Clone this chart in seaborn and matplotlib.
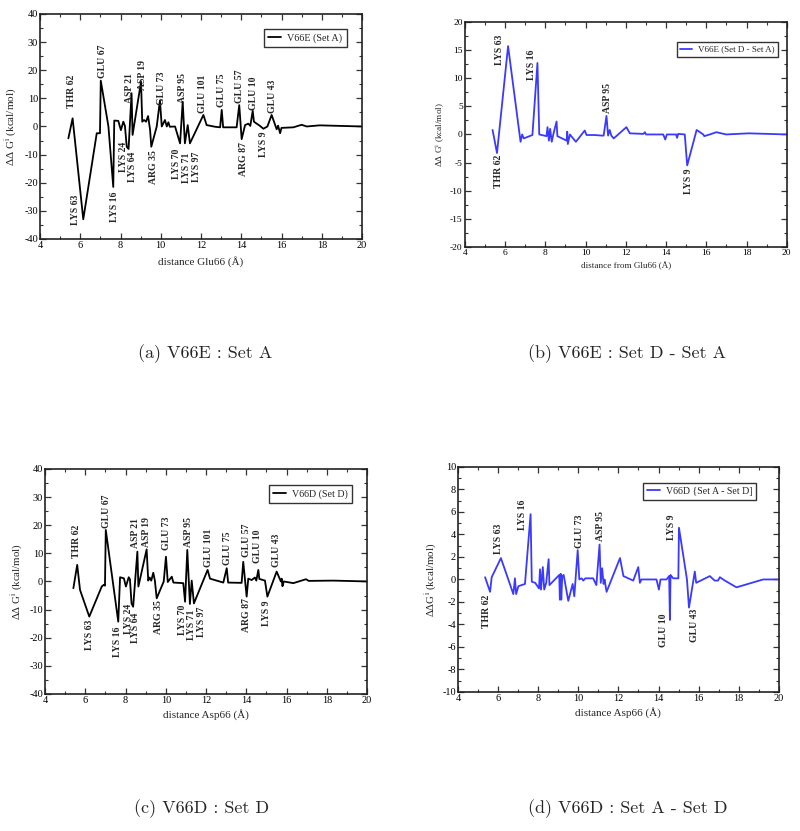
import matplotlib
matplotlib.use("Agg")
import matplotlib.pyplot as plt
from matplotlib.ticker import MultipleLocator
import seaborn as sns

# ---- panel (a): V66E Set A ----
xa = [5.41, 5.62, 6.15, 6.82, 6.98, 7.02, 7.4, 7.64, 7.69, 7.89, 8.02, 8.14, 8.22, 8.31, 8.4,
      8.55, 8.6, 9.02, 9.08, 9.17, 9.27, 9.37, 9.47, 9.53, 9.8, 9.96, 10.05, 10.21, 10.3, 10.38,
      10.45, 10.71, 10.96, 11.09, 11.2, 11.34, 11.45, 12.12, 12.28, 12.7, 12.95, 13.03, 13.1,
      13.77, 13.9, 14.02, 14.19, 14.35, 14.45, 14.57, 14.63, 14.93, 15.1, 15.3, 15.51, 15.76,
      15.83, 15.93, 16.0, 16.59, 17.0, 17.25, 17.9, 20.0]
ya = [-4.2, 2.9, -33.0, -2.4, -2.4, 16.3, 0.0, -21.5, 2.1, 2.0, -1.3, 1.7, 0.2, -7.2, -8.0,
      11.8, -3.0, 15.9, 1.7, 2.3, 1.7, 3.7, -1.2, -7.2, 0.0, 9.2, 0.0, 2.3, 0.0, 1.5,
      -0.1, 0.0, -6.0, 8.8, -6.0, 0.5, -6.0, 4.1, 0.5, -0.1, -0.3, 5.9, -0.3,
      -0.3, 7.6, -4.5, 0.5, 1.0, 0.2, 5.6, 1.7, 0.2, -0.8, 0.0, 4.1, -1.0,
      0.3, -2.4, -0.5, -0.3, 0.6, 0.0, 0.4, 0.0]
lab_a = ["THR 62", "GLU 67", "LYS 63", "LYS 16", "LYS 24", "LYS 64", "ASP 21", "ASP 19",
         "GLU 73", "ARG 35", "ASP 95", "LYS 70", "LYS 71", "LYS 97", "GLU 101", "GLU 75",
         "GLU 57", "GLU 10", "ARG 87", "LYS 9", "GLU 43"]
lab_a_x = [5.57, 7.12, 5.74, 7.68, 8.14, 8.6, 8.47, 9.08, 10.05, 9.63, 11.09, 10.79, 11.29,
           11.79, 12.09, 13.03, 13.9, 14.6, 14.1, 15.1, 15.56]
lab_a_y = [6.5, 17.1, -24.4, -23.2, -5.4, -9.0, 8.2, 13.0, 7.6, -8.4, 8.2, -7.8, -9.4,
           -9.0, 4.7, 7.0, 8.2, 5.9, -5.4, -1.8, 4.7]

# ---- panel (b): V66E Set D - Set A ----
xb = [5.38, 5.6, 6.15, 6.77, 6.85, 6.93, 7.36, 7.61, 7.7, 8.06, 8.11, 8.18, 8.24, 8.32, 8.41,
      8.56, 8.6, 9.06, 9.09, 9.12, 9.22, 9.52, 9.96, 10.05, 10.47, 10.79, 10.9, 11.04, 11.12,
      11.2, 11.28, 11.4, 12.03, 12.2, 12.87, 12.95, 13.0, 13.86, 13.96, 14.04, 14.5, 14.55,
      14.6, 14.93, 15.05, 15.52, 15.85, 15.9, 16.17, 16.5, 16.99, 18.1, 20.0]
yb = [0.8, -3.3, 15.7, -1.3, 0.0, -0.7, -0.1, 12.7, 0.0, -0.3, 1.3, -1.1, 1.0, -1.3, 0.2,
      2.3, -0.3, -1.1, 0.5, -1.7, 0.0, -1.3, 0.7, -0.1, -0.1, -0.2, -0.2, 3.3, -0.2,
      0.8, -0.2, -0.7, 1.3, 0.2, 0.1, 0.4, 0.0, 0.0, -0.9, 0.0, 0.0, -0.6,
      0.1, 0.0, -5.5, 0.8, 0.0, -0.3, 0.0, 0.4, 0.0, 0.2, 0.0]
lab_b = ["LYS 63", "THR 62", "LYS 16", "ASP 95", "LYS 9"]
lab_b_x = [5.74, 5.69, 7.31, 11.07, 15.11]
lab_b_y = [12.4, -3.6, 9.7, 3.8, -6.0]

# ---- panel (c): V66D Set D ----
xc = [5.41, 5.6, 5.74, 6.2, 6.82, 6.92, 6.98, 7.02, 7.64, 7.73, 7.92, 8.02, 8.16, 8.22, 8.3,
      8.38, 8.59, 8.64, 9.05, 9.13, 9.2, 9.28, 9.38, 9.46, 9.55, 9.9, 10.01, 10.1, 10.3, 10.38,
      10.87, 10.96, 11.07, 11.2, 11.29, 11.4, 12.08, 12.2, 12.86, 13.03, 13.1, 13.77, 13.85,
      14.02, 14.1, 14.27, 14.43, 14.5, 14.6, 14.65, 14.93, 15.05, 15.51, 15.72, 15.76, 15.8,
      15.86, 16.34, 16.97, 17.1, 18.33, 20.0]
yc = [-2.4, 5.9, -3.0, -12.5, -1.8, -1.2, -1.5, 18.3, -14.3, 1.5, 1.1, -1.8, 1.5, 0.8, -7.8,
      -9.0, 10.6, -1.8, 11.4, 0.3, 1.4, 0.3, 3.1, 0.3, -6.0, 0.0, 8.8, -0.2, 1.7, -0.4,
      -0.6, -7.2, 11.2, -8.0, 0.3, -7.8, 4.1, 1.0, -0.4, 4.7, -0.4, -0.5, 7.0,
      -5.4, 1.0, 0.5, 1.4, 0.3, 4.1, 0.9, 0.3, -5.4, 3.5, 0.0, 1.0, -1.7,
      0.0, -0.6, 0.8, 0.2, 0.3, 0.0]
lab_c = ["THR 62", "GLU 67", "LYS 63", "LYS 16", "LYS 24", "LYS 64", "ASP 21", "ASP 19",
         "GLU 73", "ARG 35", "ASP 95", "LYS 70", "LYS 71", "LYS 97", "GLU 101", "GLU 75",
         "GLU 57", "GLU 10", "ARG 87", "LYS 9", "GLU 43"]
lab_c_x = [5.57, 7.07, 6.19, 7.6, 8.14, 8.52, 8.52, 9.05, 10.05, 9.63, 11.12, 10.84, 11.29,
           11.79, 12.12, 13.06, 13.99, 14.55, 14.02, 15.02, 15.51]
lab_c_y = [8.2, 18.9, -13.7, -16.0, -7.8, -11.3, 11.8, 12.4, 11.2, -6.6, 12.4, -8.4, -10.1,
           -9.0, 5.3, 5.9, 8.8, 6.5, -6.0, -6.6, 5.3]

# ---- panel (d): V66D Set A - Set D ----
xd = [5.35, 5.6, 5.68, 6.14, 6.76, 6.84, 6.9, 7.01, 7.34, 7.62, 7.68, 7.85, 8.04, 8.09, 8.14,
      8.23, 8.3, 8.4, 8.52, 8.56, 9.05, 9.08, 9.12, 9.15, 9.2, 9.27, 9.5, 9.72, 9.8, 9.97,
      10.05, 10.17, 10.25, 10.35, 10.74, 10.9, 11.06, 11.12, 11.19, 11.26, 11.31, 11.41, 12.08,
      12.25, 12.74, 12.99, 13.07, 13.15, 13.9, 14.02, 14.1, 14.4, 14.53, 14.57, 14.6, 14.73,
      14.99, 15.02, 15.42, 15.52, 15.81, 15.88, 16.56, 16.8, 16.97, 17.06, 17.31, 17.89,
      19.22, 20.0]
yd = [0.2, -1.1, 0.2, 1.9, -1.3, 0.1, -1.3, -0.6, -0.4, 5.8, -0.2, -0.3, -0.8, 0.9, -0.9,
      1.1, -0.9, -0.3, 1.8, -0.5, 0.4, -1.8, 0.5, -1.8, 0.3, 0.4, -1.9, -0.4, -1.5, 2.6,
      0.0, 0.1, -0.1, 0.1, 0.1, -0.5, 3.1, -0.3, 1.0, -0.4, 0.0, -1.1, 1.9,
      0.3, -0.1, 1.1, -0.3, 0.0, 0.0, -0.9, 0.0, 0.0, 0.3, -3.6, 0.4, 0.1,
      0.1, 4.6, 0.0, -2.5, 0.7, -0.3, 0.3, -0.1, -0.1, 0.2, -0.1, -0.7,
      0.0, 0.0]
lab_d = ["THR 62", "LYS 63", "LYS 16", "GLU 73", "ASP 95", "LYS 9", "GLU 10", "GLU 43"]
lab_d_x = [5.43, 6.03, 7.23, 10.08, 11.13, 14.65, 14.27, 15.81]
lab_d_y = [-1.4, 2.3, 4.4, 2.8, 3.4, 3.5, -3.0, -2.6]

BLUE = "#3a3aff"
SERIF = ["Liberation Serif", "DejaVu Serif"]

sns.set_theme(style="ticks")
plt.rcParams["font.family"] = SERIF
plt.rcParams["axes.unicode_minus"] = False
plt.rcParams["mathtext.fontset"] = "stix"

fig = plt.figure(figsize=(8.0, 8.31), dpi=100)

panels = [
    dict(rect=[0.050, 0.7124, 0.4025, 0.2708], x=xa, y=ya, color="black",
         leg="V66E (Set A)", legpos=(0.952, 0.932), legfs=7.3,
         labs=(lab_a, lab_a_x, lab_a_y), ylim=(-40, 40), ymaj=10, ymin=5, tfs=7.4,
         ylab=r"ΔΔ G$^{\mathrm{i}}$ (kcal/mol)", ylfs=8, ylx=-0.065,
         xlab="distance Glu66 (Å)", xlfs=8, xly=-0.076,
         cap="(a) V66E : Set A", capxy=(205, 354)),
    dict(rect=[0.581, 0.7028, 0.4025, 0.2708], x=xb, y=yb, color=BLUE,
         leg="V66E (Set D - Set A)", legpos=(0.972, 0.912), legfs=6.5,
         labs=(lab_b, lab_b_x, lab_b_y), ylim=(-20, 20), ymaj=5, ymin=2.5, tfs=6.8,
         ylab=r"ΔΔ G$^{\mathrm{i}}$ (kcal/mol)", ylfs=6.6, ylx=-0.056,
         xlab="distance from Glu66 (Å)", xlfs=6.6, xly=-0.067,
         cap="(b) V66E : Set D - Set A", capxy=(627, 354)),
    dict(rect=[0.05625, 0.1649, 0.4025, 0.2708], x=xc, y=yc, color="black",
         leg="V66D (Set D)", legpos=(0.952, 0.929), legfs=7.2,
         labs=(lab_c, lab_c_x, lab_c_y), ylim=(-40, 40), ymaj=10, ymin=5, tfs=7.4,
         ylab=r"ΔΔ G$^{\mathrm{i}}$ (kcal/mol)", ylfs=7.8, ylx=-0.062,
         xlab="distance Asp66 (Å)", xlfs=8, xly=-0.067,
         cap="(c) V66D : Set D", capxy=(202, 809)),
    dict(rect=[0.5725, 0.1673, 0.401, 0.2708], x=xd, y=yd, color=BLUE,
         leg="V66D {Set A - Set D]", legpos=(0.930, 0.930), legfs=7.1,
         labs=(lab_d, lab_d_x, lab_d_y), ylim=(-10, 10), ymaj=2, ymin=1, tfs=7.4,
         ylab=r"ΔΔG$^{\mathrm{i}}$ (kcal/mol)", ylfs=7.8, ylx=-0.059,
         xlab="distance Asp66 (Å)", xlfs=8, xly=-0.067,
         cap="(d) V66D : Set A - Set D", capxy=(628, 809)),
]

for p in panels:
    ax = fig.add_axes(p["rect"])
    sns.lineplot(x=p["x"], y=p["y"], ax=ax, estimator=None, sort=False,
                 color=p["color"], linewidth=1.3, label=p["leg"])
    ax.set_xlim(4, 20)
    ax.set_ylim(*p["ylim"])
    ax.xaxis.set_major_locator(MultipleLocator(2))
    ax.xaxis.set_minor_locator(MultipleLocator(1))
    ax.yaxis.set_major_locator(MultipleLocator(p["ymaj"]))
    ax.yaxis.set_minor_locator(MultipleLocator(p["ymin"]))
    ax.tick_params(which="both", direction="in", top=True, right=True,
                   colors="#333333", labelcolor="black")
    ax.tick_params(which="major", length=4, width=0.9, labelsize=p["tfs"], pad=1.5)
    ax.tick_params(which="minor", length=2, width=0.8)
    for s in ax.spines.values():
        s.set_linewidth(1.2)
        s.set_color("#222222")

    names, lx, ly = p["labs"]
    for n, tx, ty in zip(names, lx, ly):
        ax.text(tx, ty, n, rotation=90, ha="center",
                va="bottom" if ty > 0 else "top",
                fontsize=7, fontweight="bold", family=SERIF)

    ax.set_ylabel(p["ylab"], fontsize=p["ylfs"])
    ax.yaxis.set_label_coords(p["ylx"], 0.5)
    ax.set_xlabel(p["xlab"], fontsize=p["xlfs"])
    ax.xaxis.set_label_coords(0.5, p["xly"])

    leg = ax.legend(loc="upper right", bbox_to_anchor=p["legpos"], borderaxespad=0,
                    fontsize=p["legfs"], frameon=True, fancybox=False, handlelength=1.3,
                    borderpad=0.4, handletextpad=0.6)
    leg.get_frame().set_edgecolor("black")
    leg.get_frame().set_linewidth(1.0)

    fig.text(p["capxy"][0] / 800, 1 - p["capxy"][1] / 831, p["cap"],
             ha="center", va="center", fontsize=13, family="cmr10")

fig.savefig("out.png", dpi=100)
plt.close(fig)
